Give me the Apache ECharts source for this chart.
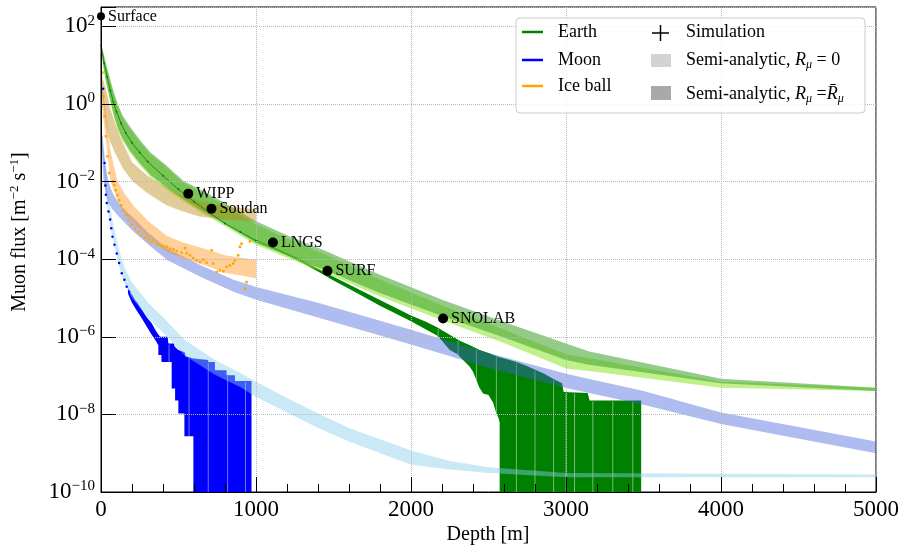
<!DOCTYPE html>
<html>
<head>
<meta charset="utf-8">
<script src="https://cdn.jsdelivr.net/npm/echarts@6/dist/echarts.min.js"></script>
<style>
  html, body { margin: 0; padding: 0; background: #fff; }
  #chart { width: 902px; height: 547px; }
</style>
</head>
<body>
<div id="chart"></div>
<script>
// all flux values are log10(flux / m^-2 s^-1), depths in m

// Earth, semi-analytic R = Rbar (dark green band)
const earthBarDepth = [0, 10, 20, 35, 50, 70, 90, 110, 140, 190, 250, 320, 413, 531, 650, 800, 1000, 1200, 1457, 1800, 2205, 2600, 3000, 3150, 4000, 5000]
const earthBarLow = [1.40, 1.13, 0.87, 0.55, 0.28, -0.08, -0.38, -0.63, -0.9, -1.22, -1.52, -1.83, -2.12, -2.45, -2.75, -3.1, -3.58, -3.9, -4.3, -4.87, -5.47, -6.02, -6.6, -6.72, -7.2, -7.4]
const earthBarHigh = [1.55, 1.42, 1.25, 1.0, 0.78, 0.48, 0.22, -0.02, -0.3, -0.6, -0.92, -1.25, -1.55, -1.98, -2.22, -2.55, -3.02, -3.38, -3.8, -4.4, -5.05, -5.62, -6.17, -6.38, -7.08, -7.31]
// Earth, semi-analytic R = 0 (light green band)
const earthR0Low = [1.35, 1.08, 0.82, 0.5, 0.23, -0.13, -0.43, -0.68, -0.95, -1.27, -1.57, -1.88, -2.17, -2.5, -2.8, -3.15, -3.63, -3.96, -4.36, -4.96, -5.58, -6.16, -6.82, -6.88, -7.31, -7.4]
const earthR0High = [1.5, 1.38, 1.2, 0.95, 0.72, 0.42, 0.16, -0.08, -0.36, -0.66, -0.98, -1.3, -1.6, -2.03, -2.28, -2.62, -3.1, -3.47, -3.9, -4.52, -5.2, -5.82, -6.45, -6.55, -7.16, -7.31]

// Moon, semi-analytic R = Rbar (dark blue band)
const moonBarDepth = [0, 10, 17, 30, 48, 75, 110, 150, 211, 300, 426, 641, 855, 1006, 1400, 2000, 2500, 3000, 3500, 4000, 5000]
const moonBarLow = [-0.9, -1.5, -2.0, -2.3, -2.55, -2.72, -2.88, -3.05, -3.29, -3.6, -4.02, -4.45, -4.84, -5.05, -5.5, -6.2, -6.8, -7.32, -7.75, -8.25, -9.0]
const moonBarHigh = [-0.57, -0.85, -1.2, -1.6, -2.0, -2.3, -2.52, -2.72, -2.94, -3.3, -3.72, -4.15, -4.53, -4.72, -5.12, -5.82, -6.42, -6.95, -7.4, -7.95, -8.7]
// Moon, semi-analytic R = 0 (light blue band)
const moonR0Depth = [0, 10, 20, 30, 40, 55, 70, 100, 125, 150, 200, 300, 413, 540, 735, 900, 1000, 1200, 1400, 1600, 2000, 2250, 2500, 3000, 5000]
const moonR0Low = [-0.95, -1.3, -1.7, -2.2, -2.65, -3.05, -3.35, -3.93, -4.3, -4.62, -5.0, -5.5, -5.95, -6.48, -6.98, -7.3, -7.55, -7.95, -8.35, -8.7, -9.3, -9.42, -9.51, -9.62, -9.62]
const moonR0High = [-0.6, -0.85, -1.2, -1.7, -2.2, -2.6, -2.92, -3.48, -3.88, -4.2, -4.6, -5.1, -5.55, -6.08, -6.6, -6.93, -7.16, -7.58, -7.98, -8.35, -8.93, -9.2, -9.36, -9.51, -9.55]

// Ice ball, semi-analytic R = Rbar (tan band)
const iceBarDepth = [0, 15, 37, 60, 91, 140, 200, 300, 420, 520, 635, 800, 1000]
const iceBarLow = [0.3, 0.0, -0.66, -0.98, -1.26, -1.65, -1.98, -2.3, -2.6, -2.76, -2.9, -2.98, -3.03]
const iceBarHigh = [0.8, 0.6, 0.3, -0.12, -0.49, -1.0, -1.5, -1.85, -2.15, -2.35, -2.5, -2.63, -2.72]
// Ice ball, semi-analytic R = 0 (orange band)
const iceR0Depth = [0, 10, 20, 37, 61, 104, 150, 211, 300, 426, 530, 641, 800, 1000]
const iceR0Low = [0.2, -0.2, -0.55, -1.1, -2.0, -2.45, -2.8, -3.08, -3.45, -3.82, -3.98, -4.12, -4.35, -4.49]
const iceR0High = [0.82, 0.5, 0.15, -0.4, -1.2, -1.95, -2.3, -2.62, -3.0, -3.4, -3.57, -3.7, -3.9, -4.02]

// simulation: Earth
const earthSimDepth = [0, 20, 40, 60, 80, 100, 130, 160, 200, 250, 300, 400, 500, 600, 700, 800, 900, 1000]
const earthSimFlux = [1.5, 1.05, 0.7, 0.35, 0.05, -0.2, -0.5, -0.75, -1.0, -1.25, -1.48, -1.85, -2.2, -2.52, -2.8, -3.08, -3.3, -3.52]
const earthFillTopDepth = [1000, 1100, 1200, 1300, 1400, 1500, 1600, 1700, 1800, 1900, 2000, 2100, 2165, 2250, 2315, 2380, 2444, 2500, 2565, 2620, 2680, 2740, 2809, 2860, 2916, 2975, 2985, 3140, 3152, 3485]
const earthFillTopFlux = [-3.5, -3.66, -3.84, -4.03, -4.24, -4.45, -4.65, -4.85, -5.05, -5.25, -5.45, -5.62, -5.75, -5.95, -6.1, -6.22, -6.34, -6.42, -6.52, -6.58, -6.65, -6.74, -6.86, -6.95, -7.08, -7.2, -7.42, -7.45, -7.64, -7.64]
const earthFillBotDepth = [1000, 1100, 1200, 1300, 1400, 1500, 1600, 1700, 1800, 1900, 2000, 2100, 2165, 2200, 2250, 2300, 2336, 2379, 2400, 2422, 2440, 2465, 2500, 2530, 2551, 2565, 2572, 2572, 3485]
const earthFillBotFlux = [-3.54, -3.71, -3.9, -4.1, -4.32, -4.55, -4.76, -4.98, -5.2, -5.4, -5.6, -5.82, -5.96, -6.1, -6.34, -6.45, -6.6, -6.77, -6.9, -7.12, -7.3, -7.46, -7.5, -7.7, -7.98, -8.1, -8.2, -10, -10]
const earthSeams = [2175, 2304, 2422, 2551, 2680, 2800, 2920, 3000, 3055, 3173, 3302, 3431]

// simulation: Moon
const moonDotDepth = [14, 23, 28, 31, 37, 48, 59, 66, 74, 87, 102, 117, 134, 151, 166, 181]
const moonDotFlux = [0.39, -1.52, -2.1, -2.34, -2.55, -2.77, -2.98, -3.2, -3.42, -3.63, -3.85, -4.1, -4.36, -4.53, -4.71, -4.84]
const moonFillTopDepth = [175, 190, 205, 220, 235, 250, 265, 285, 300, 327, 345, 360, 381, 430, 435, 470, 475, 499, 540, 545, 596, 692, 692, 735, 735, 810, 810, 864, 864, 971]
const moonFillTopFlux = [-4.75, -4.85, -4.95, -5.05, -5.12, -5.22, -5.3, -5.44, -5.52, -5.65, -5.78, -5.88, -6.0, -6.0, -6.17, -6.17, -6.25, -6.34, -6.4, -6.5, -6.56, -6.6, -6.65, -6.65, -6.86, -6.86, -6.99, -6.99, -7.14, -7.14]
const moonFillBotDepth = [175, 200, 230, 260, 290, 320, 350, 370, 370, 390, 390, 456, 456, 478, 478, 499, 499, 538, 538, 596, 596, 971]
const moonFillBotFlux = [-4.9, -5.12, -5.32, -5.5, -5.7, -5.9, -6.08, -6.22, -6.47, -6.47, -6.65, -6.65, -7.33, -7.33, -7.64, -7.64, -7.98, -7.98, -8.56, -8.56, -10, -10]
const moonSeams = [439, 568, 692, 817, 932]

// simulation: Ice ball
const iceDotDepth = [10, 16, 23, 31, 42, 53, 80, 87, 95, 106, 117, 130, 145, 160, 177, 198, 220, 241, 263, 284, 306, 327, 360, 381, 402, 424, 445, 467, 488, 520, 542, 553, 574, 596, 617, 639, 660, 681, 714, 724, 746, 767, 789, 810, 832, 853, 864, 885, 896, 907, 928, 939, 961]
const iceDotFlux = [0.81, 0.2, -0.32, -0.83, -1.35, -1.78, -2.0, -2.09, -2.22, -2.35, -2.48, -2.61, -2.74, -2.86, -2.99, -3.11, -3.21, -3.3, -3.38, -3.45, -3.51, -3.57, -3.62, -3.64, -3.66, -3.68, -3.73, -3.75, -3.79, -3.83, -3.71, -3.85, -3.9, -3.97, -4.03, -4.07, -4.01, -4.09, -3.77, -4.11, -4.33, -4.29, -4.31, -4.2, -4.16, -4.11, -4.03, -3.9, -3.68, -3.6, -4.76, -4.59, -3.54]

// laboratories
const siteNames = ['Surface', 'WIPP', 'Soudan', 'LNGS', 'SURF', 'SNOLAB']
const siteDepth = [0, 563, 713, 1109, 1461, 2207]
const siteFlux = [2.26, -2.31, -2.7, -3.57, -4.3, -5.53]

// y ticks (exponents)
const yTicks = [-10, -8, -6, -4, -2, 0, 2]

const FONT = '"Liberation Serif", "DejaVu Serif", serif'
const chart = echarts.init(document.getElementById('chart'))

const pairs = (d, v) => d.map((x, i) => [x, v[i]])

// linear lookup inside a path, used only to place the seam lines
const valueAt = (d, v, x) => {
  for (let i = d.length - 1; i > 0; i--) {
    if (d[i - 1] <= x && x <= d[i]) {
      if (d[i] === d[i - 1]) return v[i]
      return v[i - 1] + (v[i] - v[i - 1]) * (x - d[i - 1]) / (d[i] - d[i - 1])
    }
  }
  return v[0]
}

// filled band between two edges sharing one depth array
const bandSeries = (depth, low, high, color, z) => ({
  type: 'custom',
  z,
  silent: true,
  clip: true,
  data: [[depth[0], high[0]]],
  renderItem: (params, api) => {
    const pts = []
    depth.forEach((d, i) => pts.push(api.coord([d, high[i]])))
    for (let i = depth.length - 1; i >= 0; i--) pts.push(api.coord([depth[i], low[i]]))
    return { type: 'polygon', shape: { points: pts }, style: { fill: color } }
  }
})

// simulation envelope with own top / bottom paths, plus thin light seams
const fillSeries = (topD, topV, botD, botV, seams, color) => ({
  type: 'custom',
  z: 2,
  silent: true,
  clip: true,
  data: [[topD[0], topV[0]]],
  renderItem: (params, api) => {
    const pts = []
    topD.forEach((d, i) => pts.push(api.coord([d, topV[i]])))
    for (let i = botD.length - 1; i >= 0; i--) pts.push(api.coord([botD[i], botV[i]]))
    const children = [{ type: 'polygon', shape: { points: pts }, style: { fill: color } }]
    seams.forEach(s => {
      const a = api.coord([s, valueAt(topD, topV, s)])
      const b = api.coord([s, valueAt(botD, botV, s)])
      children.push({
        type: 'line',
        shape: { x1: a[0], y1: a[1] + 1, x2: b[0], y2: b[1] },
        style: { stroke: 'rgba(255,255,255,0.45)', lineWidth: 1 }
      })
    })
    return { type: 'group', children }
  }
})

const txt = (x, y, text, size, extra) => ({
  type: 'text',
  x, y, z: 101,
  style: Object.assign({
    text,
    font: size + 'px ' + FONT,
    fill: '#000',
    align: 'left', textAlign: 'left',
    verticalAlign: 'middle', textVerticalAlign: 'middle'
  }, extra || {})
})

const legendRich = {
  n: { fontFamily: FONT, fontSize: 18, lineHeight: 22, verticalAlign: 'middle', color: '#000' },
  i: { fontFamily: FONT, fontSize: 18, fontStyle: 'italic', lineHeight: 22, verticalAlign: 'middle', color: '#000' },
  u: { fontFamily: FONT, fontSize: 12, fontStyle: 'italic', lineHeight: 14, verticalAlign: 'bottom', color: '#000' }
}

const option = {
  animation: false,
  backgroundColor: '#fff',
  grid: { left: 101, right: 26, top: 7, bottom: 55, show: true, borderColor: '#000', borderWidth: 1 },
  xAxis: {
    type: 'value',
    min: 0, max: 5000, interval: 1000,
    z: 5,
    axisLine: { onZero: false, lineStyle: { color: '#000', width: 1 } },
    axisTick: { inside: true, length: 15, lineStyle: { color: '#000', width: 1 } },
    minorTick: { show: true, splitNumber: 5, length: 8, lineStyle: { color: '#000', width: 1 } },
    axisLabel: { color: '#000', fontFamily: FONT, fontSize: 23, margin: 6, formatter: v => String(v) },
    splitLine: { show: true, lineStyle: { color: '#b8b8b8', type: 'dotted', width: 1 } }
  },
  yAxis: {
    type: 'value',
    min: -10, max: 2.5, interval: 2,
    z: 5,
    axisLine: { onZero: false, lineStyle: { color: '#000', width: 1 } },
    axisTick: { inside: true, length: 15, lineStyle: { color: '#000', width: 1 } },
    axisLabel: {
      margin: 6,
      formatter: v => yTicks.includes(v) ? '{b|10}{s|' + (v < 0 ? '\u2212' + (-v) : v) + '}' : '',
      rich: {
        b: { fontFamily: FONT, fontSize: 23, lineHeight: 26, verticalAlign: 'middle', color: '#000' },
        s: { fontFamily: FONT, fontSize: 15, lineHeight: 14, verticalAlign: 'top', color: '#000' }
      }
    },
    splitLine: { show: true, lineStyle: { color: '#b8b8b8', type: 'dotted', width: 1 } }
  },
  series: [
    fillSeries(earthFillTopDepth, earthFillTopFlux, earthFillBotDepth, earthFillBotFlux, earthSeams, '#008000'),
    fillSeries(moonFillTopDepth, moonFillTopFlux, moonFillBotDepth, moonFillBotFlux, moonSeams, '#0000ff'),
    bandSeries(earthBarDepth, earthR0Low, earthR0High, 'rgba(150,230,60,0.6)', 3),
    bandSeries(earthBarDepth, earthBarLow, earthBarHigh, 'rgba(60,160,40,0.55)', 3),
    bandSeries(moonR0Depth, moonR0Low, moonR0High, 'rgba(135,206,235,0.45)', 3),
    bandSeries(moonBarDepth, moonBarLow, moonBarHigh, 'rgba(65,95,220,0.42)', 3),
    bandSeries(iceR0Depth, iceR0Low, iceR0High, 'rgba(255,150,30,0.45)', 3),
    bandSeries(iceBarDepth, iceBarLow, iceBarHigh, 'rgba(184,134,11,0.42)', 3),
    {
      type: 'line',
      z: 4,
      data: pairs(earthSimDepth, earthSimFlux),
      symbol: 'circle',
      symbolSize: 2,
      itemStyle: { color: '#008000' },
      lineStyle: { color: '#008000', width: 0.8 },
      silent: true
    },
    {
      type: 'scatter',
      z: 4,
      data: pairs(moonDotDepth, moonDotFlux),
      symbol: 'circle',
      symbolSize: 2.5,
      itemStyle: { color: '#0000ff', opacity: 1 },
      silent: true
    },
    {
      type: 'scatter',
      z: 4,
      data: pairs(iceDotDepth, iceDotFlux),
      symbol: 'rect',
      symbolSize: 2.5,
      itemStyle: { color: '#ffa500', opacity: 1 },
      silent: true
    },
    {
      type: 'scatter',
      z: 6,
      data: pairs(siteDepth, siteFlux),
      symbol: 'circle',
      symbolSize: (v, p) => (p.dataIndex === 0 ? 8 : 10),
      itemStyle: { color: '#000', opacity: 1 },
      label: {
        show: true,
        position: 'right',
        distance: 3,
        formatter: p => siteNames[p.dataIndex],
        fontFamily: FONT,
        fontSize: 16,
        color: '#000'
      },
      silent: true
    }
  ],
  graphic: [
    // axis titles
    {
      type: 'text',
      x: 20, y: 232, rotation: Math.PI / 2, z: 101,
      style: {
        text: '{n|Muon flux [m}{p|\u22122}{n| s}{p|\u22121}{n|]}',
        align: 'center', textAlign: 'center',
        verticalAlign: 'middle', textVerticalAlign: 'middle',
        rich: {
          n: { fontFamily: FONT, fontSize: 20, lineHeight: 24, verticalAlign: 'middle', color: '#000' },
          p: { fontFamily: FONT, fontSize: 13, lineHeight: 14, verticalAlign: 'top', color: '#000' }
        }
      }
    },
    txt(488, 535, 'Depth [m]', 20, { align: 'center', textAlign: 'center' }),
    // legend
    {
      type: 'rect', z: 100,
      shape: { x: 516, y: 18, width: 349, height: 95, r: 4 },
      style: { fill: 'rgba(255,255,255,0.85)', stroke: '#cccccc', lineWidth: 1 }
    },
    { type: 'line', z: 101, shape: { x1: 522, y1: 32, x2: 543, y2: 32 }, style: { stroke: '#008000', lineWidth: 2.5 } },
    { type: 'line', z: 101, shape: { x1: 522, y1: 60, x2: 543, y2: 60 }, style: { stroke: '#0000ff', lineWidth: 2.5 } },
    { type: 'line', z: 101, shape: { x1: 522, y1: 86, x2: 543, y2: 86 }, style: { stroke: '#ffa500', lineWidth: 2.5 } },
    txt(558, 32, 'Earth', 18),
    txt(558, 60, 'Moon', 18),
    txt(558, 86, 'Ice ball', 18),
    { type: 'line', z: 101, shape: { x1: 652, y1: 33, x2: 669, y2: 33 }, style: { stroke: '#000', lineWidth: 1.5 } },
    { type: 'line', z: 101, shape: { x1: 660.5, y1: 25, x2: 660.5, y2: 41 }, style: { stroke: '#000', lineWidth: 1.5 } },
    { type: 'rect', z: 101, shape: { x: 651, y: 54, width: 20, height: 13 }, style: { fill: '#d3d3d3' } },
    { type: 'rect', z: 101, shape: { x: 651, y: 86, width: 20, height: 14 }, style: { fill: '#a9a9a9' } },
    txt(686, 32, 'Simulation', 18),
    txt(686, 60, '{n|Semi-analytic, }{i|R}{u|\u03bc}{n| = 0}', 18, { rich: legendRich }),
    txt(686, 94, '{n|Semi-analytic, }{i|R}{u|\u03bc}{n| =}{i|R\u0304}{u|\u03bc}', 18, { rich: legendRich })
  ]
}

chart.setOption(option)
</script>
</body>
</html>
